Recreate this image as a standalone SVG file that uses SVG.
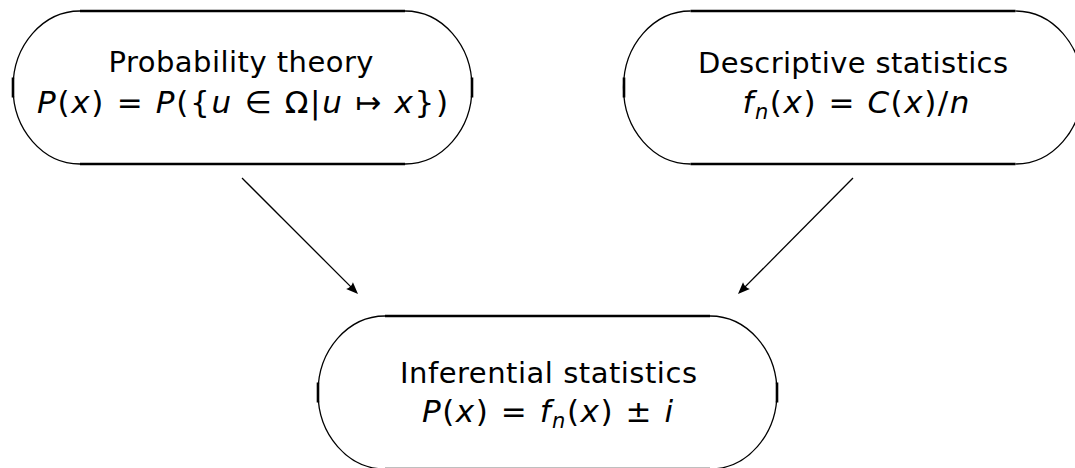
<svg xmlns="http://www.w3.org/2000/svg" width="1075" height="468" viewBox="0 0 1075 468">
  <style>
    .arc { fill: none; stroke: #000; stroke-width: 1.3; }
    .edge { fill: none; stroke: #000; stroke-width: 2.6; }
    .lbl { font-family: "DejaVu Sans", "Liberation Sans", sans-serif; font-size: 29px; fill: #000; text-anchor: middle; }
    .math { font-size: 31px; }
    .it { font-style: italic; }
    .sub { font-size: 21px; font-style: italic; }
    .conn { fill: none; stroke: #000; stroke-width: 1.3; }
  </style>
  <defs>
    <marker id="arr" viewBox="-14 -6 15 12" markerWidth="15" markerHeight="12" refX="-3" refY="0" orient="auto" markerUnits="userSpaceOnUse">
      <path d="M0,0 L-12,-4.8 Q-9.5,0 -12,4.8 Z" fill="#000"/>
    </marker>
  </defs>
  <rect width="1075" height="468" fill="#fff"/>

  <g id="node-probability">
    <path class="arc" d="M80,11 A67,76.5 0 0 0 80,164"/>
    <path class="arc" d="M405,11 A67,76.5 0 0 1 405,164"/>
    <path class="edge" d="M80,11 H405 M80,164 H405 M13,77.5 V97.5 M472,77.5 V97.5"/>
    <text class="lbl" x="241" y="72" textLength="265" lengthAdjust="spacing">Probability theory</text>
    <text class="lbl math" x="242.5" y="113" textLength="411" lengthAdjust="spacing"><tspan class="it">P</tspan>(<tspan class="it">x</tspan>) = <tspan class="it">P</tspan>({<tspan class="it">u</tspan> ∈ Ω|<tspan class="it">u</tspan> ↦ <tspan class="it">x</tspan>})</text>
  </g>

  <g id="node-descriptive">
    <path class="arc" d="M690.5,11 A67,76.5 0 0 0 690.5,164"/>
    <path class="arc" d="M1015.5,11 A67,76.5 0 0 1 1015.5,164"/>
    <path class="edge" d="M690.5,11 H1015.5 M690.5,164 H1015.5 M624,77.5 V97.5 M1082,77.5 V97.5"/>
    <text class="lbl" x="853" y="73" textLength="310" lengthAdjust="spacing">Descriptive statistics</text>
    <text class="lbl math" x="856" y="113" textLength="227" lengthAdjust="spacing"><tspan class="it">f</tspan><tspan class="sub" dy="6">n</tspan><tspan dy="-6">(</tspan><tspan class="it">x</tspan>) = <tspan class="it">C</tspan>(<tspan class="it">x</tspan>)/<tspan class="it">n</tspan></text>
  </g>

  <g id="node-inferential">
    <path class="arc" d="M385,316 A67,76.5 0 0 0 385,469"/>
    <path class="arc" d="M710,316 A67,76.5 0 0 1 710,469"/>
    <path class="edge" d="M385,316 H710 M385,469 H710 M318,382.5 V402.5 M777,382.5 V402.5"/>
    <text class="lbl" x="548.5" y="383" textLength="297" lengthAdjust="spacing">Inferential statistics</text>
    <text class="lbl math" x="547.5" y="422" textLength="251" lengthAdjust="spacing"><tspan class="it">P</tspan>(<tspan class="it">x</tspan>) = <tspan class="it">f</tspan><tspan class="sub" dy="6">n</tspan><tspan dy="-6">(</tspan><tspan class="it">x</tspan>) ± <tspan class="it">i</tspan></text>
  </g>

  <g id="connectors">
    <line class="conn" x1="242" y1="178" x2="355.9" y2="291.9" marker-end="url(#arr)"/>
    <line class="conn" x1="853" y1="178" x2="740.1" y2="291.9" marker-end="url(#arr)"/>
  </g>
</svg>
